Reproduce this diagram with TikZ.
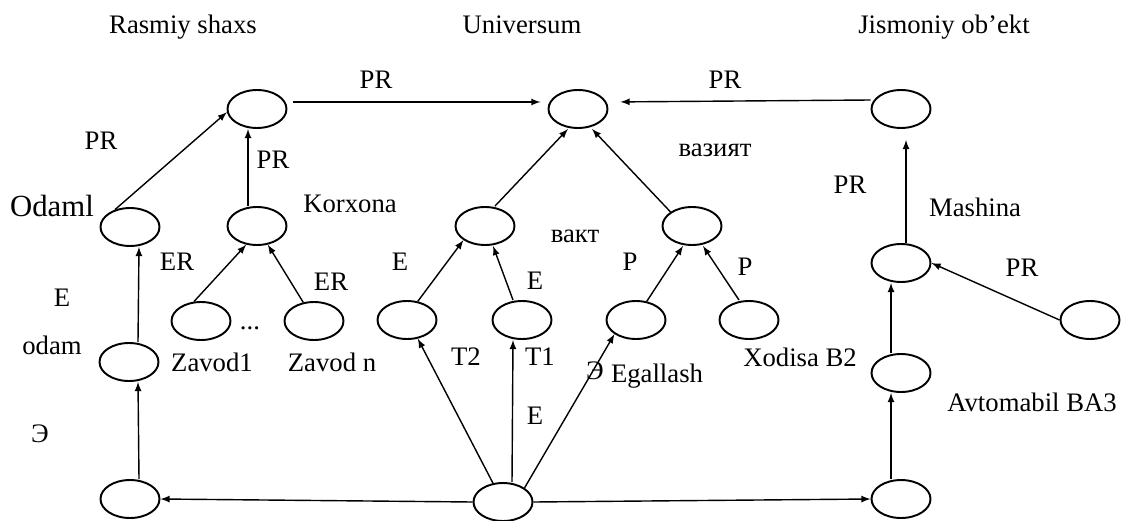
\documentclass[tikz,border=0pt]{standalone}
\usepackage{fontspec}
\setmainfont{Liberation Serif}
\usetikzlibrary{shapes.geometric}

\begin{document}
\begin{tikzpicture}[->,x=0.02cm,y=-0.02cm,>=latex]
    \tikzstyle{every node}=[font=\rmfamily\fontsize{15.2}{18}\selectfont,inner sep=1pt];
    \tikzstyle{every path}=[thick];
    \tikzstyle{st}=[draw,ellipse,line width=1.1pt,minimum width=1.18cm,minimum height=0.76cm,inner sep=0pt];
    \tikzstyle{title}=[anchor=base];

    \useasboundingbox (0,0) rectangle (1124,520);

    % top level
    \node[st] (n1) at (257,109) {};
    \node[st] (n2) at (578,109) {};
    \node[st] (n3) at (901,109) {};

    % left branch
    \node[st] (n4) at (130,227) {};
    \node[st] (n5) at (257,226) {};
    \node[st] (n6) at (201,321) {};
    \node[st] (n7) at (314,321) {};
    \node[st] (n8) at (129,362) {};

    % bottom row
    \node[st] (n9) at (130,499) {};
    \node[st] (n10) at (503,502) {};
    \node[st] (n11) at (901,499) {};

    % middle branch
    \node[st] (n12) at (485,226) {};
    \node[st] (n13) at (692,226) {};
    \node[st] (n14) at (407,320) {};
    \node[st] (n15) at (522,320) {};
    \node[st] (n16) at (636,320) {};
    \node[st] (n17) at (749,320) {};

    % right branch
    \node[st] (n18) at (901,263) {};
    \node[st] (n19) at (901,373) {};
    \node[st] (n20) at (1090,320) {};

    % labels
    \node[title] (l1) at (183,34) {Rasmiy shaxs};
    \node[title] (l2) at (522,34) {Universum};
    \node[title] (l3) at (944,34) {Jismoniy ob’ekt};
    \node (l4) at (376,80) {PR};
    \node (l5) at (725,80) {PR};
    \node (l6) at (101,141) {PR};
    \node (l7) at (273,160) {PR};
    \node[font=\rmfamily\fontsize{17.5}{20}\selectfont] (l8) at (52,206) {Odaml};
    \node (l9) at (350,204) {Korxona};
    \node (l10) at (177,262) {ER};
    \node (l11) at (331,282) {ER};
    \node (l12) at (62,298) {E};
    \node (l13) at (52,345) {odam};
    \node (l14) at (40,434) {Э};
    \node (l15) at (212,362) {Zavod1};
    \node (l16) at (250,328) {...};
    \node (l17) at (332,362) {Zavod n};
    \node (l18) at (400,262) {E};
    \node (l19) at (535,281) {E};
    \node (l20) at (466,357) {T2};
    \node (l21) at (540,357) {T1};
    \node (l22) at (535,416) {E};
    \node (l23) at (575,236) {вакт};
    \node (l24) at (715,150) {вазият};
    \node (l25) at (630,262) {P};
    \node (l26) at (745,267) {P};
    \node (l27) at (595,371) {Э};
    \node (l28) at (657,376) {Egallash};
    \node (l29) at (800,357) {Xodisa B2};
    \node (l30) at (850,185) {PR};
    \node (l31) at (975,207) {Mashina};
    \node (l32) at (1022,268) {PR};
    \node (l33) at (1032,402) {Avtomabil BA3};

    % arrows into the top row
    \draw[shorten <=0.12cm,shorten >=0.14cm] ([yshift=0.14cm]n1.east) -- ([yshift=0.14cm]n2.west);
    \draw[shorten >=0.24cm] ([yshift=0.18cm]n3.west) -- ([yshift=0.14cm]n2.east);
    \draw (n4.131) -- (n1.186);
    \draw ([xshift=-0.18cm]n5.north) -- ([xshift=-0.18cm]n1.south);
    \draw ([xshift=0.2cm]n12.north) -- ([xshift=-0.2cm]n2.south);
    \draw (n13.north west) -- ([xshift=0.28cm]n2.south);
    \draw[shorten >=0.22cm] ([xshift=0.1cm]n18.north) -- ([xshift=0.1cm]n3.south);

    % left branch
    \draw (n6.110) -- (n5.240);
    \draw (n7.120) -- (n5.300);
    \draw ([xshift=0.18cm]n8.north) -- ([xshift=0.18cm]n4.south);
    \draw ([xshift=0.18cm]n9.north) -- ([xshift=0.18cm]n8.south);

    % middle branch
    \draw (n14.60) -- (n12.south west);
    \draw ([xshift=-0.18cm]n15.north) -- ([xshift=0.16cm]n12.south);
    \draw (n16.60) -- ([xshift=-0.18cm]n13.south);
    \draw ([xshift=-0.2cm]n17.north) -- ([xshift=0.22cm]n13.south);

    % from the bottom centre
    \draw (n10.west) -- (n9.east);
    \draw (n10.east) -- (n11.west);
    \draw (n10.118) -- (n14.300);
    \draw ([xshift=0.18cm]n10.north) -- ([xshift=-0.18cm]n15.south);
    \draw (n10.north east) -- (n16.south west);

    % right branch
    \draw ([xshift=-0.2cm]n11.north) -- ([xshift=-0.2cm]n19.south);
    \draw ([xshift=-0.2cm]n19.north) -- ([xshift=-0.2cm]n18.south);
    \draw (n20.west) -- (n18.east);

\end{tikzpicture}
\end{document}
